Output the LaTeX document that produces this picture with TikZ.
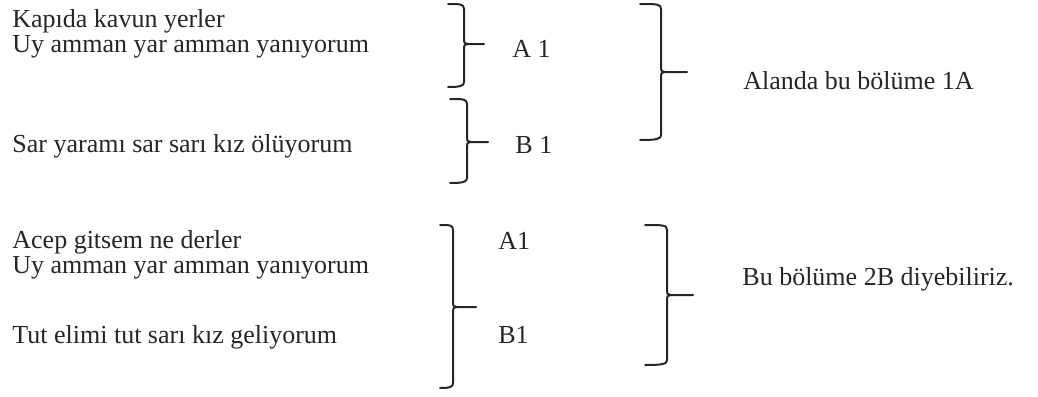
\documentclass[tikz,border=0pt]{standalone}
\usepackage{fontspec}
\setmainfont{Liberation Serif}
\usepackage{tikz}
\usetikzlibrary{positioning}

\tikzset{
	line/.style={anchor=base west, inner sep=0pt, text=black!85, font=\fontsize{13pt}{15pt}\selectfont},
	brk/.style={draw=black!85, line width=1pt, line cap=round, line join=round}
}

\begin{document}
\begin{tikzpicture}[x=0.5pt, y=-0.5pt]
	\useasboundingbox (0,0) rectangle (1038,396);

	\begin{scope}[every node/.style={line}]
		\node (k1) at (12,27) {Kapıda kavun yerler};
		\node (k2) at (12,52) {Uy amman yar amman yanıyorum};
		\node (k3) at (12,152) {Sar yaramı sar sarı kız ölüyorum};
		\node (k4) at (12,248) {Acep gitsem ne derler};
		\node (k5) at (12,273) {Uy amman yar amman yanıyorum};
		\node (k6) at (12,343) {Tut elimi tut sarı kız geliyorum};

		\node (a1) at (512,57) {A 1};
		\node (b1) at (515,153) {B 1};
		\node (a2) at (498,249) {A1};
		\node (b2) at (498,343) {B1};

		\node (s1) at (743,89) {Alanda bu bölüme 1A};
		\node (s2) at (742,285) {Bu bölüme 2B diyebiliriz.};
	\end{scope}

	% braces: top hook, tip, bottom hook
	\begin{scope}[every path/.style={brk}]
		\coordinate (t1) at (484,44);
		\draw (448,4) .. controls (460,4) and (464,4) .. (464,9) -- (464,40)
			.. controls (464,43) .. (468,44) -- (t1);
		\draw (468,44) .. controls (464,45) .. (464,48) -- (464,82)
			.. controls (464,86) and (460,87) .. (448,87);

		\coordinate (t2) at (488,142);
		\draw (450,99) .. controls (463,99) and (467,99) .. (467,104) -- (467,138)
			.. controls (467,141) .. (471,142) -- (t2);
		\draw (471,142) .. controls (467,143) .. (467,146) -- (467,178)
			.. controls (467,182) and (463,183) .. (450,183);

		\coordinate (t3) at (476,307);
		\draw (440,225) .. controls (450,225) and (453,225) .. (453,230) -- (453,303)
			.. controls (453,306) .. (457,307) -- (t3);
		\draw (457,307) .. controls (453,308) .. (453,311) -- (453,383)
			.. controls (453,387) and (450,388) .. (440,388);

		\coordinate (t4) at (687,72);
		\draw (640,4) .. controls (657,4) and (661,4) .. (661,9) -- (661,68)
			.. controls (661,71) .. (665,72) -- (t4);
		\draw (665,72) .. controls (661,73) .. (661,76) -- (661,135)
			.. controls (661,139) and (657,140) .. (640,140);

		\coordinate (t5) at (693,295);
		\draw (645,225) .. controls (663,225) and (667,225) .. (667,230) -- (667,291)
			.. controls (667,294) .. (671,295) -- (t5);
		\draw (671,295) .. controls (667,296) .. (667,299) -- (667,360)
			.. controls (667,364) and (663,365) .. (645,365);
	\end{scope}
\end{tikzpicture}
\end{document}
